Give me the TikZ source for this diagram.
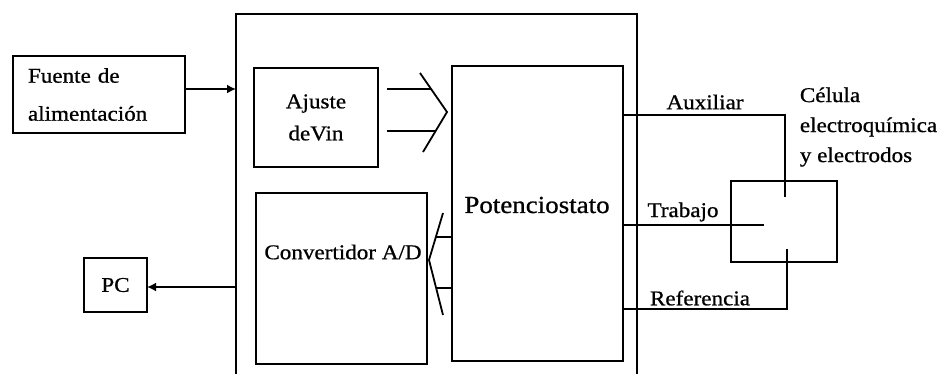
\documentclass[tikz,border=0pt]{standalone}
\usepackage{fontspec}
\setmainfont{Liberation Serif}[FakeStretch=1.1,FakeBold=0.8]
\usetikzlibrary{arrows.meta,calc}
\newcommand{\tsz}{\fontsize{21}{32}\selectfont}
\begin{document}
\begin{tikzpicture}[x=1pt,y=-1pt,line width=1.8pt,
  box/.style={draw,inner sep=0pt,outer sep=0pt},
  txt/.style={inner sep=0pt,font=\tsz,align=center},
  arr/.style={-{Latex[length=9pt,width=9pt]}}]
\useasboundingbox (0,0) rectangle (947,373);
% outer frame (open at the bottom)
\coordinate (bbl) at (236,380);
\coordinate (btl) at (236,14);
\coordinate (btr) at (637,14);
\coordinate (bbr) at (637,380);
\draw (bbl) -- (btl) -- (btr) -- (bbr);
% boxes
\node[box,minimum width=172pt,minimum height=77pt,text width=142pt,align=left,
  font=\fontsize{21}{38}\selectfont] (fuente) at (99,94.5) {Fuente de\\alimentación};
\node[box,minimum width=124pt,minimum height=99pt,align=center,font=\tsz] (ajuste) at (316,117.5) {Ajuste\\deVin};
\node[box,minimum width=171pt,minimum height=171pt] (conv) at (341.5,278.5) {};
\node[txt] (convtxt) at (343,252) {Convertidor A/D};
\node[box,minimum width=171pt,minimum height=295pt] (pot) at (537.5,213.5) {};
\node[txt,font=\fontsize{24.5}{30}\selectfont] (pottxt) at (537,205) {Potenciostato};
\node[box,minimum width=63pt,minimum height=54pt,font=\tsz] (pc) at (115.5,285) {PC};
\node[box,minimum width=106pt,minimum height=81pt] (cell) at (784,221.5) {};
% arrows
\draw[arr] ($(fuente.east)+(0,-5.5)$) -- ($(fuente.east -| btl)+(0,-5.5)$);
\draw[arr] ($(btl |- pc.east)+(0,2)$) -- ($(pc.east)+(0,2)$);
% Ajuste de Vin -> Potenciostato
\coordinate (a1) at (387,89);
\coordinate (a1e) at (431,89);
\coordinate (a2) at (387,131);
\coordinate (a2e) at (435,131);
\draw (a1) -- (a1e);
\draw (a2) -- (a2e);
\coordinate (c1) at (420,73);
\coordinate (c2) at (447,112);
\coordinate (c3) at (423,152);
\draw (c1) -- (c2) -- (c3);
% Potenciostato -> Convertidor
\coordinate (d1) at (443,213);
\coordinate (d2) at (429,260);
\coordinate (d3) at (443,315);
\draw (d1) -- (d2) -- (d3);
\coordinate (e1) at (436,237);
\coordinate (e2) at (436,288);
\draw (pot.west |- e1) -- (e1);
\draw (pot.west |- e2) -- (e2);
% electrodes
\coordinate (aux1) at (785,115);
\coordinate (aux2) at (785,197);
\draw (pot.east |- aux1) -- (aux1) -- (aux2);
\coordinate (tr1) at (764,225);
\draw (pot.east |- tr1) -- (tr1);
\coordinate (ref1) at (787,309);
\coordinate (ref2) at (787,249);
\draw (pot.east |- ref1) -- (ref1) -- (ref2);
% labels
\node[txt] (auxl) at (705,102) {Auxiliar};
\node[txt] (trl) at (683,212) {Trabajo};
\node[txt] (refl) at (700,298) {Referencia};
\node[txt,align=left,anchor=west,font=\fontsize{21}{30}\selectfont] (celll) at (799,127) {Célula\\electroquímica\\y electrodos};
\end{tikzpicture}
\end{document}
